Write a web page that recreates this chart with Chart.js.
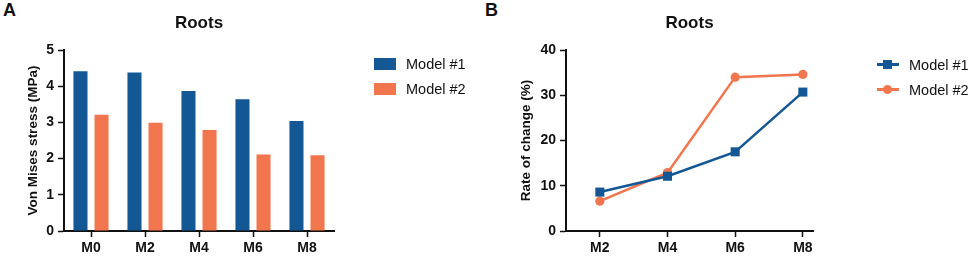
<!DOCTYPE html>
<html>
<head>
<meta charset="utf-8">
<script src="https://cdn.jsdelivr.net/npm/chart.js@4"></script>
<style>
  body { margin: 0; background: #fff; font-family: Arial, "Liberation Sans", sans-serif; }
  #wrap { position: relative; width: 969px; height: 256px; overflow: hidden; }
  .panel-letter { position: absolute; top: 1px; font-size: 18px; font-weight: bold; line-height: 18px; color: #111; }
  .legend { position: absolute; font-size: 14.5px; color: #111; }
  .legend .row { display: flex; align-items: center; height: 25px; }
  .legend .box { width: 22px; height: 12px; margin-right: 10px; }
  .legend .marker { position: relative; width: 22px; height: 3px; margin-right: 10px; }
  .legend .marker i { position: absolute; left: 6px; top: -3px; width: 9px; height: 9px; }
  canvas { position: absolute; top: 0; }
</style>
</head>
<body>
<div id="wrap">
  <div class="panel-letter" style="left:3px">A</div>
  <div class="panel-letter" style="left:485px">B</div>
  <canvas id="stressChart" style="left:0px"></canvas>
  <canvas id="rateChart" style="left:480px"></canvas>
  <div class="legend" id="stressLegend" style="left:374px; top:51px"></div>
  <div class="legend" id="rateLegend" style="left:877px; top:52px"></div>
</div>
<script>
// panel A - von Mises stress per model
const stressCategories = ["M0", "M2", "M4", "M6", "M8"];
const stressModel1 = [4.41, 4.38, 3.87, 3.64, 3.04];
const stressModel2 = [3.21, 2.99, 2.79, 2.11, 2.09];
const stressTicks = [0, 1, 2, 3, 4, 5];

// panel B - rate of change
const rateCategories = ["M2", "M4", "M6", "M8"];
const rateModel1 = [8.6, 12.1, 17.5, 30.7];
const rateModel2 = [6.6, 12.9, 34.0, 34.6];
const rateTicks = [0, 10, 20, 30, 40];

const seriesNames = ["Model #1", "Model #2"];
const BLUE = "#135894";
const ORANGE = "#f2764d";

Chart.defaults.font.family = 'Arial, "Liberation Sans", sans-serif';
Chart.defaults.color = "#111";

const tickFont = { size: 14, weight: "bold" };

function axisGrid() {
    return {
        display: true,
        drawOnChartArea: false,
        drawTicks: true,
        tickLength: 6,
        tickWidth: 1.5,
        tickColor: "#111",
        offset: false
    };
}

function makeCanvas(id, w, h) {
    const c = document.getElementById(id);
    c.width = w; c.height = h;
    c.style.width = w + "px"; c.style.height = h + "px";
    return c.getContext("2d");
}

// ---- panel A ----
new Chart(makeCanvas("stressChart", 480, 256), {
    type: "bar",
    data: {
        labels: stressCategories,
        datasets: [
            { label: seriesNames[0], data: stressModel1, backgroundColor: BLUE },
            { label: seriesNames[1], data: stressModel2, backgroundColor: ORANGE }
        ]
    },
    options: {
        responsive: false,
        animation: false,
        layout: { padding: { left: 0, right: 146, top: 0, bottom: 0 } },
        datasets: { bar: { categoryPercentage: 0.78, barPercentage: 0.667 } },
        plugins: {
            legend: { display: false },
            tooltip: { enabled: false },
            title: {
                display: true,
                text: "Roots",
                fullSize: false,
                color: "#111",
                font: { size: 17, weight: "bold" },
                padding: { top: 13, bottom: 16.6 }
            }
        },
        scales: {
            x: {
                grid: axisGrid(),
                border: { color: "#111", width: 2 },
                ticks: { font: tickFont, padding: 3, color: "#111" },
                afterFit: s => { s.height = 25; }
            },
            y: {
                min: 0, max: 5,
                grid: axisGrid(),
                border: { color: "#111", width: 2 },
                afterBuildTicks: s => { s.ticks = stressTicks.map(v => ({ value: v })); },
                ticks: { font: tickFont, padding: 4, color: "#111" },
                title: {
                    display: true,
                    text: "Von Mises stress (MPa)",
                    color: "#111",
                    font: { size: 13.5, weight: "bold" },
                    padding: { top: 25.5, bottom: 0 }
                },
                afterFit: s => { s.width = 64; }
            }
        }
    }
});

// ---- panel B ----
new Chart(makeCanvas("rateChart", 489, 256), {
    type: "line",
    data: {
        datasets: [
            {
                label: seriesNames[0],
                data: rateModel1.map((v, i) => ({ x: i, y: v })),
                borderColor: BLUE, backgroundColor: BLUE,
                borderWidth: 2.5, pointStyle: "rect", pointRadius: 6.4,
                pointBorderWidth: 0
            },
            {
                label: seriesNames[1],
                data: rateModel2.map((v, i) => ({ x: i, y: v })),
                borderColor: ORANGE, backgroundColor: ORANGE,
                borderWidth: 2.5, pointStyle: "circle", pointRadius: 4.6,
                pointBorderWidth: 0
            }
        ]
    },
    options: {
        responsive: false,
        animation: false,
        layout: { padding: { left: 0, right: 156, top: 0, bottom: 0 } },
        plugins: {
            legend: { display: false },
            tooltip: { enabled: false },
            title: {
                display: true,
                text: "Roots",
                fullSize: false,
                color: "#111",
                font: { size: 17, weight: "bold" },
                padding: { top: 13, bottom: 16.6 }
            }
        },
        scales: {
            x: {
                type: "linear",
                min: -0.5, max: 3.15,
                grid: axisGrid(),
                border: { color: "#111", width: 2 },
                afterBuildTicks: s => { s.ticks = rateCategories.map((c, i) => ({ value: i })); },
                ticks: { font: tickFont, padding: 3, color: "#111", callback: v => rateCategories[v] },
                afterFit: s => { s.height = 25; }
            },
            y: {
                min: 0, max: 40,
                grid: axisGrid(),
                border: { color: "#111", width: 2 },
                afterBuildTicks: s => { s.ticks = rateTicks.map(v => ({ value: v })); },
                ticks: { font: tickFont, padding: 4, color: "#111" },
                title: {
                    display: true,
                    text: "Rate of change (%)",
                    color: "#111",
                    font: { size: 13.5, weight: "bold" },
                    padding: { top: 38.5, bottom: 0 }
                },
                afterFit: s => { s.width = 86; }
            }
        }
    }
});

// ---- legends ----
const colors = [BLUE, ORANGE];
document.getElementById("stressLegend").innerHTML = seriesNames.map((n, i) =>
    `<div class="row"><span class="box" style="background:${colors[i]}"></span>${n}</div>`).join("");
document.getElementById("rateLegend").innerHTML = seriesNames.map((n, i) =>
    `<div class="row"><span class="marker" style="background:${colors[i]}"><i style="background:${colors[i]};border-radius:${i ? "50%" : "0"}"></i></span>${n}</div>`).join("");
</script>
</body>
</html>
